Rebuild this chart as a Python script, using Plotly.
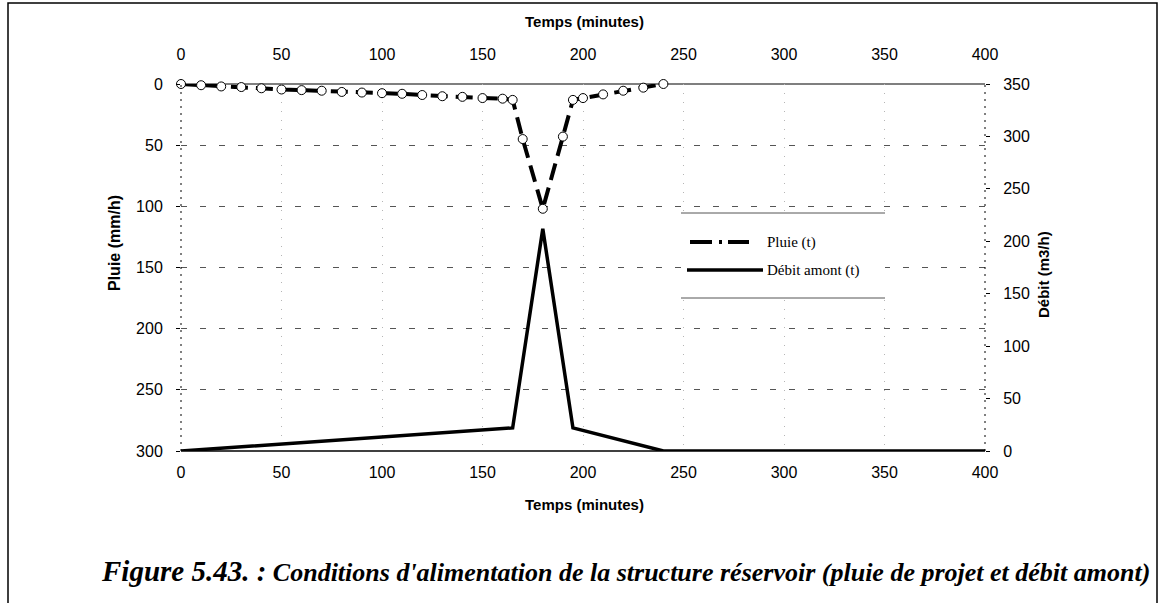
import plotly.graph_objects as go

# ---------------- data ----------------
temps_pluie = [0, 10, 20, 30, 40, 50, 60, 70, 80, 90, 100, 110, 120, 130, 140, 150, 160, 165,
               170, 180, 190, 195, 200, 210, 220, 230, 240]
pluie = [0, 1, 2, 2.5, 3.5, 4.5, 5, 5.5, 6.5, 7, 7.5, 8, 9, 10, 10.5, 11.5, 12, 13,
         45, 102, 43, 13, 11.5, 8.5, 5.5, 3, 0]

temps_debit = [0, 165, 180, 195, 240, 400]
debit = [0, 22, 212, 22, 0, 0]

x_ticks = [0, 50, 100, 150, 200, 250, 300, 350, 400]
pluie_ticks = [0, 50, 100, 150, 200, 250, 300]
debit_ticks = [0, 50, 100, 150, 200, 250, 300, 350]

legend_labels = ["Pluie (t)", "Débit amont (t)"]
x_title = "Temps (minutes)"
y_title = "Pluie (mm/h)"
y2_title = "Débit (m3/h)"
caption_big = "Figure 5.43. :"
caption_rest = "Conditions d'alimentation de la structure réservoir (pluie de projet et débit amont)"

# ---------------- layout geometry (screen pixels) ----------------
W, H = 1165, 603
L, R, T, B = 181, 985, 84, 451


def px(x):
    return (x - L) / (R - L)


def py(y):
    return (B - y) / (B - T)


SANS = "Liberation Sans, Arial, sans-serif"
SERIF = "Liberation Serif, Times New Roman, serif"

fig = go.Figure()

fig.add_trace(go.Scatter(
    x=temps_pluie, y=pluie, name=legend_labels[0], mode="lines+markers",
    line=dict(color="black", width=4, dash="17px,8px"),
    marker=dict(symbol="circle", size=9, color="white", line=dict(color="black", width=1)),
    xaxis="x", yaxis="y", showlegend=False, cliponaxis=False,
))
fig.add_trace(go.Scatter(
    x=temps_debit, y=debit, name=legend_labels[1], mode="lines",
    line=dict(color="black", width=3.5),
    xaxis="x", yaxis="y2", showlegend=False,
))
# invisible companion so that the top time axis is drawn
fig.add_trace(go.Scatter(
    x=temps_debit, y=debit, mode="lines", line=dict(color="rgba(0,0,0,0)", width=0),
    xaxis="x2", yaxis="y2", showlegend=False, hoverinfo="skip",
))

tickfont = dict(family=SANS, size=16, color="black")

fig.update_layout(
    width=W, height=H,
    margin=dict(l=L, r=W - R, t=T, b=H - B),
    paper_bgcolor="white", plot_bgcolor="white",
    showlegend=False,
    xaxis=dict(range=[0, 400], tickvals=x_ticks, showline=False, zeroline=False,
               showgrid=True, gridcolor="#b5b5b5", griddash="1px,8px", gridwidth=1,
               ticks="", tickfont=tickfont, ticklabelstandoff=10),
    xaxis2=dict(range=[0, 400], tickvals=x_ticks, overlaying="x", side="top", anchor="y",
                showline=False, zeroline=False, showgrid=False, ticks="",
                tickfont=tickfont, ticklabelstandoff=20),
    yaxis=dict(range=[300, 0], tickvals=pluie_ticks, showline=False, zeroline=False,
               showgrid=True, gridcolor="#555", griddash="6px,13px", gridwidth=1,
               ticks="outside", ticklen=4, tickcolor="black",
               tickfont=tickfont, ticklabelstandoff=10),
    yaxis2=dict(range=[0, 350], tickvals=debit_ticks, overlaying="y", side="right",
                showline=False, zeroline=False, showgrid=False,
                ticks="outside", ticklen=4, tickcolor="black",
                tickfont=tickfont, ticklabelstandoff=10),
)

shapes = []
# axis lines
shapes.append(dict(type="line", xref="paper", yref="paper", x0=0, x1=1, y0=1, y1=1,
                   line=dict(color="black", width=1.2), layer="below"))
shapes.append(dict(type="line", xref="paper", yref="paper", x0=0, x1=1, y0=0, y1=0,
                   line=dict(color="black", width=1.5), layer="below"))
shapes.append(dict(type="line", xref="paper", yref="paper", x0=0, x1=0, y0=0, y1=1,
                   line=dict(color="black", width=1, dash="2px,5px")))
shapes.append(dict(type="line", xref="paper", yref="paper", x0=1, x1=1, y0=0, y1=1,
                   line=dict(color="black", width=1, dash="2px,5px")))
# outer frame
shapes.append(dict(type="rect", xref="paper", yref="paper",
                   x0=px(8), x1=px(1157), y0=py(640), y1=py(3),
                   line=dict(color="black", width=1.5), layer="below"))
# legend box (top & bottom rules only)
lx0, lx1 = px(681), px(885)
shapes.append(dict(type="rect", xref="paper", yref="paper", x0=lx0, x1=lx1,
                   y0=py(298), y1=py(213), fillcolor="white", line=dict(width=0)))
shapes.append(dict(type="line", xref="paper", yref="paper", x0=lx0, x1=lx1,
                   y0=py(213), y1=py(213), line=dict(color="#555", width=1)))
shapes.append(dict(type="line", xref="paper", yref="paper", x0=lx0, x1=lx1,
                   y0=py(298), y1=py(298), line=dict(color="#555", width=1)))
# legend samples
shapes.append(dict(type="line", xref="paper", yref="paper", x0=px(690), x1=px(749),
                   y0=py(242), y1=py(242),
                   line=dict(color="black", width=4, dash="22px,7px,3px,6px")))
shapes.append(dict(type="line", xref="paper", yref="paper", x0=px(687), x1=px(763),
                   y0=py(270), y1=py(270), line=dict(color="black", width=3.5)))

annotations = []
lfont = dict(family=SERIF, size=15, color="black")
annotations.append(dict(xref="paper", yref="paper", x=px(765), y=py(242), xanchor="left",
                        yanchor="middle", text=legend_labels[0], showarrow=False, font=lfont))
annotations.append(dict(xref="paper", yref="paper", x=px(765), y=py(270), xanchor="left",
                        yanchor="middle", text=legend_labels[1], showarrow=False, font=lfont))
# axis titles
tfont = dict(family=SANS, size=15, color="black")
annotations.append(dict(xref="paper", yref="paper", x=px(584), y=py(22), text="<b>%s</b>" % x_title,
                        showarrow=False, font=tfont, xanchor="center", yanchor="middle"))
annotations.append(dict(xref="paper", yref="paper", x=px(584), y=py(504), text="<b>%s</b>" % x_title,
                        showarrow=False, font=tfont, xanchor="center", yanchor="middle"))
annotations.append(dict(xref="paper", yref="paper", x=px(115), y=py(243), text="<b>%s</b>" % y_title,
                        showarrow=False, font=dict(family=SANS, size=16, color="black"),
                        textangle=-90, xanchor="center", yanchor="middle"))
annotations.append(dict(xref="paper", yref="paper", x=px(1043), y=py(275), text="<b>%s</b>" % y2_title,
                        showarrow=False, font=tfont, textangle=-90, xanchor="center", yanchor="middle"))
# caption
annotations.append(dict(xref="paper", yref="paper", x=px(625), y=py(571),
                        text="<b><i><span style='font-size:29px'>%s</span> %s</i></b>" % (caption_big, caption_rest),
                        showarrow=False, font=dict(family=SERIF, size=26, color="black"),
                        xanchor="center", yanchor="middle"))

fig.update_layout(shapes=shapes, annotations=annotations)

fig.write_html("out.html", config={"displayModeBar": False},
               post_script="document.body.style.margin='0px';")
